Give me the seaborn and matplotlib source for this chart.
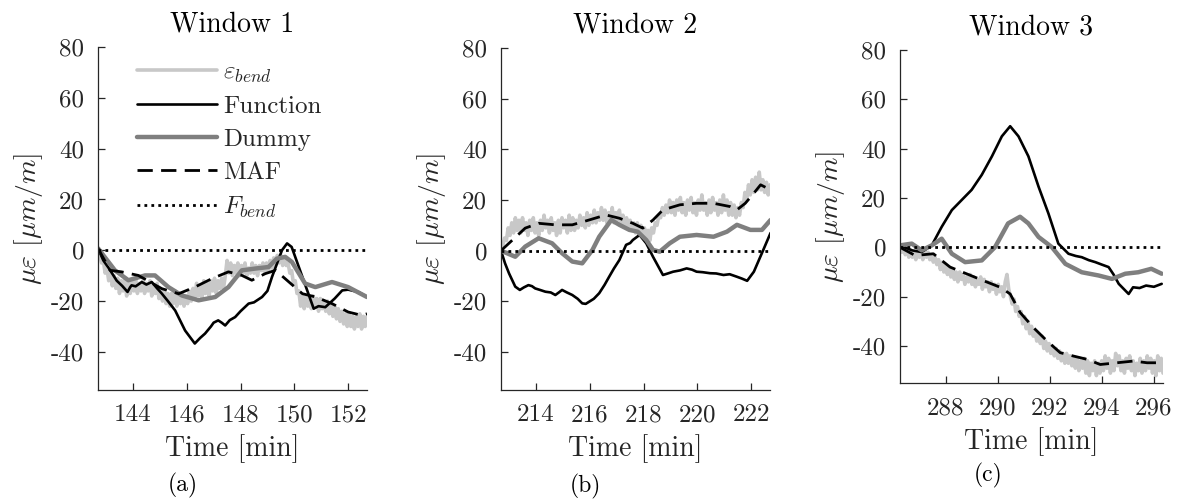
import numpy as np
import matplotlib
matplotlib.use("Agg")
import matplotlib.pyplot as plt
import seaborn as sns
import pandas as pd

# ---------------- data ----------------
windows = ["Window 1", "Window 2", "Window 3"]
captions = ["(a)", "(b)", "(c)"]
xlims = [(142.7, 152.7), (212.7, 222.7), (286.25, 296.35)]
xticks = [[144, 146, 148, 150, 152], [214, 216, 218, 220, 222], [288, 290, 292, 294, 296]]
yticks = [-40, -20, 0, 20, 40, 60, 80]

# eps_bend (sampled evenly across each window)
eps1 = [0, -2, -5, -4, -9, -7, -12, -8, -14, -10, -15, -11, -17, -12, -16, -11, -18, -13, -17, -12,
        -16, -11, -17, -13, -16, -12, -17, -13, -16, -12, -18, -14, -17, -13, -19, -15, -20, -16, -21, -17,
        -22, -17, -21, -16, -22, -18, -21, -17, -22, -18, -21, -16, -20, -15, -19, -13, -18, -14, -19, -12,
        -17, -13, -18, -12, -16, -11, -17, -12, -15, -11, -15, -10, -4, -9, -5, -10, -6, -9, -5, -10,
        -6, -9, -5, -10, -7, -9, -5, -9, -6, -10, -6, -8, -5, -9, -5, -8, -4, -7, -3, -6,
        -2, -5, -2, -6, -3, -6, -5, -9, -8, -13, -12, -17, -16, -22, -18, -23, -18, -22, -19, -23,
        -18, -22, -19, -24, -19, -23, -20, -24, -20, -25, -21, -26, -22, -27, -23, -28, -24, -29, -25, -30,
        -25, -30, -26, -31, -26, -30, -25, -31, -26, -30, -26]
eps2 = [0, 2, 5, 4, 9, 6, 11, 7, 13, 8, 12, 7, 13, 8, 11, 6, 12, 8, 13, 7,
        11, 6, 12, 8, 14, 9, 12, 7, 13, 8, 11, 6, 12, 7, 13, 9, 12, 7, 14, 8,
        13, 8, 12, 9, 14, 10, 13, 9, 15, 10, 14, 11, 16, 11, 15, 12, 17, 12, 16, 11,
        15, 12, 17, 11, 15, 12, 16, 11, 14, 10, 13, 9, 12, 8, 11, 7, 11, 6, 10, 6,
        9, 5, 8, 4, 9, 7, 11, 10, 14, 13, 17, 14, 18, 15, 20, 15, 19, 14, 20, 16,
        21, 15, 19, 14, 20, 16, 21, 15, 19, 14, 20, 16, 22, 16, 19, 14, 20, 15, 21, 16,
        19, 14, 20, 15, 22, 16, 20, 14, 19, 14, 18, 13, 17, 14, 19, 17, 23, 20, 26, 22,
        28, 23, 29, 24, 31, 24, 28, 23, 27, 22, 26]
eps3 = [0, -2, 1, -3, 0, -4, -1, -4, -2, -5, -1, -4, -2, -5, -1, -4, -2, -5, -3, -6,
        -4, -7, -5, -9, -6, -10, -7, -11, -8, -12, -9, -13, -10, -14, -10, -13, -11, -15, -12, -14,
        -11, -15, -12, -16, -13, -15, -12, -17, -13, -16, -14, -18, -14, -17, -15, -19, -15, -18, -16, -20,
        -14, -11, -17, -20, -23, -21, -26, -24, -28, -26, -31, -28, -33, -30, -35, -32, -36, -34, -38, -35,
        -39, -36, -41, -38, -42, -39, -43, -40, -44, -41, -45, -42, -46, -43, -47, -43, -47, -44, -48, -45,
        -49, -45, -50, -46, -49, -45, -51, -46, -52, -47, -50, -46, -52, -47, -51, -46, -50, -44, -49, -45,
        -51, -46, -50, -43, -48, -44, -50, -46, -51, -45, -49, -44, -50, -46, -52, -47, -50, -45, -51, -46,
        -50, -44, -49, -45, -51, -46, -52, -44, -50, -45, -51]

# Function
fun_t1 = [142.7, 142.9, 143.1, 143.4, 143.6, 143.8, 143.9, 143.95, 144.1, 144.33, 144.5, 144.7, 144.9,
          145.07, 145.3, 145.57, 145.94, 146.3, 146.5, 146.68, 146.9, 147.0, 147.17, 147.3, 147.43,
          147.6, 147.8, 148.0, 148.3, 148.5, 148.8, 149.0, 149.17, 149.54, 149.73, 149.9, 150.3,
          150.72, 150.9, 151.15, 151.5, 151.78, 152.0, 152.4, 152.7]
fun_v1 = [0.8, -4, -7, -12, -14, -16.4, -14.5, -13.8, -14.2, -12.5, -13.5, -12.5, -15,
          -17, -20, -23.7, -31.6, -36.7, -34.5, -32.8, -30, -28.5, -27.6, -28.5, -29.6,
          -27.5, -26.3, -24, -21, -20.5, -18.4, -16, -10.5, 0, 2.7, 1.3, -10.5,
          -23, -22, -22.4, -19, -15.8, -15.5, -16.5, -18.4]
fun_t2 = [212.7, 212.85, 213.0, 213.23, 213.4, 213.55, 213.72, 213.85, 213.97, 214.15, 214.35, 214.55,
          214.72, 214.85, 214.97, 215.15, 215.35, 215.55, 215.72, 215.85, 215.97, 216.15, 216.35,
          216.55, 216.72, 216.9, 217.1, 217.35, 217.5, 217.6, 217.85, 218.1, 218.35, 218.72,
          218.9, 219.1, 219.35, 219.6, 219.8, 219.97, 220.2, 220.47, 220.7, 220.97, 221.2,
          221.47, 221.65, 221.85, 222.1, 222.45, 222.72]
fun_v2 = [0, -5, -9, -14.2, -15.5, -14.5, -13.6, -14, -14.9, -15.5, -16.2, -16.5,
          -17.5, -16.5, -15.5, -16.5, -17.5, -19, -20.8, -21, -20.2, -19, -16.8,
          -13.5, -10.3, -7, -3.7, 2.3, 3, 4.2, 6.2, 2.9, -2.4, -9.6,
          -9, -8.3, -7.8, -7, -7.5, -8.3, -8.5, -8.9, -9, -9.6, -9.3,
          -10.3, -11, -11.9, -8.3, 0.3, 7]
fun_t3 = [286.25, 286.7, 287.08, 287.47, 287.85, 288.24, 288.62, 289.0, 289.39, 289.78, 290.16, 290.48,
          290.8, 291.18, 291.57, 291.95, 292.33, 292.72, 293.0, 293.23, 293.5, 293.75, 294.0, 294.26,
          294.45, 294.65, 295.03, 295.2, 295.45, 295.7, 296.0, 296.3]
fun_v3 = [0.8, -1.2, -1.9, 0.8, 8.3, 15.1, 19.2, 23.3, 29.4, 36.9, 45, 49.1,
          45, 36.9, 24.6, 13.7, 1.5, -2.6, -3.5, -4, -5.2, -6, -7, -8,
          -11, -14.8, -18.9, -16.2, -16.5, -15.5, -16, -14.8]

# Dummy
dum_t1 = [142.7, 143.33, 143.83, 144.45, 144.82, 145.32, 145.82, 146.44, 147.06, 147.55, 148.05, 148.55,
          149.04, 149.35, 149.66, 149.91, 150.4, 150.78, 151.4, 152.0, 152.7]
dum_v1 = [0.8, -7.9, -11.8, -9.9, -9.9, -14.5, -17.8, -19.7, -18.4, -14.5, -7.9, -7.2,
          -6.6, -3.3, -2.6, -4.6, -13.1, -14.5, -12.5, -14.5, -18.4]
dum_t2 = [212.7, 213.23, 213.6, 214.1, 214.6, 214.97, 215.35, 215.72, 216.1, 216.35, 216.8, 217.1,
          217.47, 217.78, 218.1, 218.35, 218.6, 218.97, 219.35, 219.97, 220.6, 221.1, 221.47, 221.97,
          222.4, 222.72]
dum_v2 = [0, -2.4, 1.6, 4.9, 2.9, -1, -4.3, -5, 0.3, 5.5, 12.1, 10.2,
          8.2, 7.5, 4.2, 0.3, -0.4, 2.9, 5.5, 6.2, 5.5, 7.5, 10.2, 8.2,
          8.2, 12.1]
dum_t3 = [286.25, 286.7, 287.08, 287.47, 287.85, 288.24, 288.75, 289.39, 289.9, 290.4, 290.86, 291.18,
          291.57, 292.08, 292.6, 293.23, 293.87, 294.39, 294.9, 295.4, 295.9, 296.3]
dum_v3 = [0.8, 1.5, -1.2, 0.8, 3.5, -2.6, -6, -5.3, 0.1, 9.7, 12.4, 9.7,
          4.2, 0.1, -6.7, -10.1, -11.4, -12.8, -10.7, -10.1, -8.7, -10.7]

# MAF
maf_t1 = [142.7, 143.15, 143.58, 144.2, 145.07, 145.7, 146.3, 146.93, 147.55, 148.05, 148.42, 148.92,
          149.3, 149.66, 150.3, 150.8, 151.4, 152.0, 152.5, 152.7]
maf_v1 = [0.8, -7.9, -8.5, -9.9, -15.1, -17.1, -14.5, -11.2, -8.5, -9.9, -11.8, -9.2,
          -7.9, -11.2, -17.1, -18.4, -21, -24.3, -25.6, -25]
maf_t2 = [212.7, 213.6, 214.1, 214.72, 215.35, 215.97, 216.6, 217.1, 217.6, 217.97, 218.35, 218.72,
          219.35, 219.97, 220.6, 221.22, 221.47, 221.78, 222.1, 222.35, 222.72]
maf_v2 = [0, 8.9, 10.8, 10.2, 10.2, 12.1, 14.1, 12.8, 10.8, 8.9, 12.1, 16.1,
          18.1, 18.7, 18.7, 17.4, 16.1, 18.7, 22.7, 26, 24]
maf_t3 = [286.25, 286.83, 287.53, 288.17, 288.8, 289.45, 290.1, 290.48, 290.86, 291.37, 291.9, 292.4,
          292.92, 293.43, 293.94, 294.58, 295.22, 295.74, 296.3]
maf_v3 = [0, -3.3, -2.6, -8, -10.7, -13.5, -16.2, -18.9, -26.4, -32.5, -38, -42.7,
          -44.1, -45.4, -47.5, -46.8, -46.1, -46.8, -46.8]

# F_bend (constant zero over each window)
fbend_v = [0, 0]

eps_all = [eps1, eps2, eps3]
fun_all = [(fun_t1, fun_v1), (fun_t2, fun_v2), (fun_t3, fun_v3)]
dum_all = [(dum_t1, dum_v1), (dum_t2, dum_v2), (dum_t3, dum_v3)]
maf_all = [(maf_t1, maf_v1), (maf_t2, maf_v2), (maf_t3, maf_v3)]

# ---------------- style ----------------
sns.set_style("ticks")
plt.rcParams.update({
    "font.family": ["cmr10", "DejaVu Serif"],
    "mathtext.fontset": "cm",
    "axes.unicode_minus": False,
    "axes.formatter.use_mathtext": False,
})

TXT = "#262626"
C_EPS = "#c8c8c8"
C_DUM = "#7f7f7f"

fig = plt.figure(figsize=(11.83, 5), dpi=100)
positions = [(0.0828, 0.22, 0.2274, 0.686),
             (0.4235, 0.22, 0.2274, 0.684),
             (0.7608, 0.234, 0.2223, 0.666)]
cap_pos = [(0.1547, 0.03), (0.4945, 0.028), (0.8352, 0.05)]

for i in range(3):
    ax = fig.add_axes(positions[i])
    x0, x1 = xlims[i]
    eps = eps_all[i]
    df_eps = pd.DataFrame({"t": np.linspace(x0, x1, len(eps)), "v": eps})
    sns.lineplot(data=df_eps, x="t", y="v", ax=ax, color=C_EPS, lw=2.6,
                 estimator=None, sort=False, label=r"$\varepsilon_{bend}$")
    ft, fv = fun_all[i]
    sns.lineplot(x=ft, y=fv, ax=ax, color="black", lw=1.9, estimator=None, sort=False,
                 label="Function")
    dt, dv = dum_all[i]
    sns.lineplot(x=dt, y=dv, ax=ax, color=C_DUM, lw=3.2, estimator=None, sort=False,
                 label="Dummy")
    mt, mv = maf_all[i]
    sns.lineplot(x=mt, y=mv, ax=ax, color="black", lw=2.0, estimator=None, sort=False,
                 label="MAF")
    ax.lines[-1].set_dashes((5.5, 3))
    sns.lineplot(x=[x0, x1], y=fbend_v, ax=ax, color="black", lw=2.0, estimator=None,
                 sort=False, label=r"$F_{bend}$")
    ax.lines[-1].set_linestyle((0, (1, 1.5)))

    ax.set_xlim(x0, x1)
    ax.set_ylim(-55, 80)
    ax.set_xticks(xticks[i])
    ax.set_yticks(yticks)
    for s in ["top", "right"]:
        ax.spines[s].set_visible(False)
    for s in ["left", "bottom"]:
        ax.spines[s].set_color(TXT)
        ax.spines[s].set_linewidth(0.9)
    ax.tick_params(direction="in", length=5, width=0.9, color=TXT, labelcolor=TXT,
                   labelsize=18, pad=10)
    ax.set_xlabel("Time [min]", fontsize=20, color=TXT, labelpad=6)
    ax.set_ylabel(r"$\mu\varepsilon$ $[\mu m/m]$", fontsize=20, color=TXT, labelpad=4)
    ax.set_title(windows[i], fontsize=20, pad=11, color="black")

    if i == 0:
        ax.legend(loc="upper left", bbox_to_anchor=(0.145, 0.958), frameon=False,
                  fontsize=18, handlelength=3.2, handletextpad=0.25, labelspacing=0.42,
                  borderaxespad=0, borderpad=0)
    else:
        ax.get_legend().remove()

    fig.text(cap_pos[i][0], cap_pos[i][1], captions[i], fontsize=17, ha="center",
             va="center", color="black")

fig.savefig("out.png", dpi=100)
